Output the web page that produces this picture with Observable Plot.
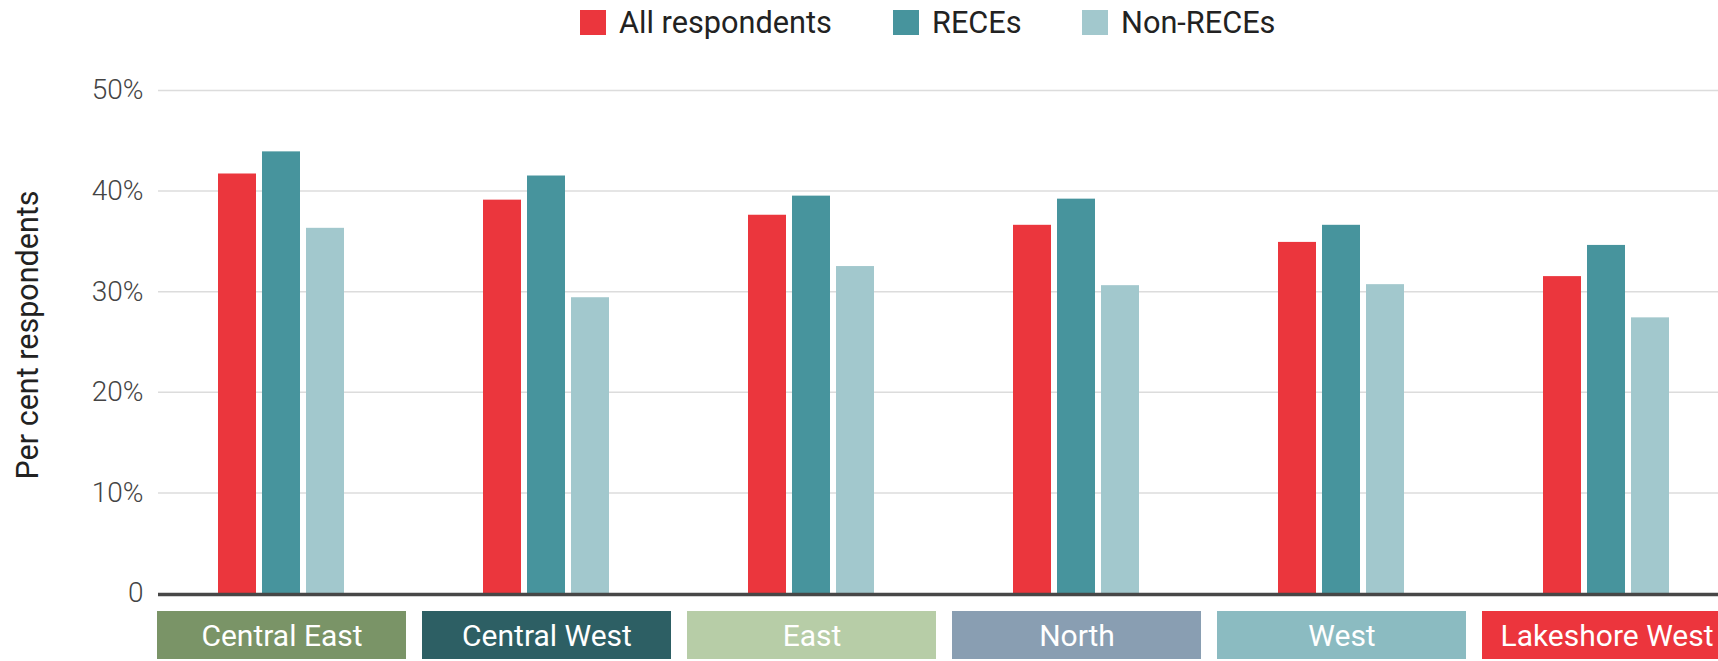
<!DOCTYPE html>
<html>
<head>
<meta charset="utf-8">
<script src="https://cdn.jsdelivr.net/npm/d3@7"></script>
<script src="https://cdn.jsdelivr.net/npm/@observablehq/plot@0.6"></script>
<style>
  html, body { margin: 0; padding: 0; background: #fff; overflow: hidden; width: 1718px; height: 661px; }
  body { font-family: Roboto, "Noto Sans", sans-serif; }
  #legend { height: 44px; position: relative; white-space: nowrap; }
  .item { position: absolute; top: 0; height: 44px; display: flex; align-items: center; font-size: 30.7px; color: #222; }
  .sw { width: 26px; height: 25px; margin-right: 13px; }
  #chart, #strip { width: 1740px; }
  svg { display: block; max-width: none !important; }
  svg.main g[aria-label="y-axis tick label"] text { font-weight: 300; fill: #444; }
</style>
</head>
<body>
<div id="legend"></div>
<div id="chart"></div>
<div id="strip"></div>
<script>
const categories = ["Central East", "Central West", "East", "North", "West", "Lakeshore West"];
const series = ["All respondents", "RECEs", "Non-RECEs"];
const allRespondents = [41.7, 39.1, 37.6, 36.6, 34.9, 31.5];
const reces = [43.9, 41.5, 39.5, 39.2, 36.6, 34.6];
const nonReces = [36.3, 29.4, 32.5, 30.6, 30.7, 27.4];
const yTicks = [0, 10, 20, 30, 40, 50];
const yTitle = "Per cent respondents";
const seriesColors = ["#EB363D", "#47949D", "#A2C8CD"];
const categoryColors = ["#7A9467", "#2D5F64", "#B7CDA7", "#899EB2", "#8BBBC1", "#EC353D"];

const seriesValues = [allRespondents, reces, nonReces];
const data = categories.flatMap((c, i) => series.map((s, j) => ({category: c, series: s, value: seriesValues[j][i]})));
const gridRows = categories.flatMap(c => yTicks.slice(1).map(t => ({category: c, tick: t})));
const baseRows = categories.map(c => ({category: c, tick: yTicks[0]}));
const isFirst = d => d.category === categories[0];
const notFirst = d => d.category !== categories[0];

// legend (layout offsets for the three entries)
const legendLefts = [580, 893, 1082];
const legend = document.getElementById("legend");
series.forEach((s, i) => {
  const item = document.createElement("div");
  item.className = "item";
  item.style.left = legendLefts[i] + "px";
  const sw = document.createElement("div");
  sw.className = "sw";
  sw.style.background = seriesColors[i];
  const label = document.createElement("span");
  label.textContent = s;
  item.appendChild(sw);
  item.appendChild(label);
  legend.appendChild(item);
});

const gridStyle = {fx: "category", y: "tick", stroke: "#dcdcdc", strokeWidth: 1.5};
const baseStyle = {fx: "category", y: "tick", stroke: "#474747", strokeWidth: 3.5, dy: 1};

const main = Plot.plot({
  width: 1740,
  height: 567,
  marginLeft: 148,
  marginRight: 0,
  marginTop: 46,
  marginBottom: 18,
  className: "main",
  style: {fontFamily: "Roboto, 'Noto Sans', sans-serif", fontSize: "28px", color: "#444", background: "transparent", overflow: "visible", maxWidth: "none"},
  fx: {domain: categories, paddingInner: 0, paddingOuter: 0, axis: null, label: null},
  x: {domain: series, paddingInner: 0.135, paddingOuter: 1.545, axis: null},
  y: {domain: [0, 50], ticks: yTicks, tickFormat: d => d === 0 ? "0" : d + "%", tickSize: 0, tickPadding: 6, label: null},
  color: {domain: series, range: seriesColors},
  marks: [
    Plot.ruleY(gridRows.filter(isFirst), {...gridStyle, insetLeft: 9}),
    Plot.ruleY(gridRows.filter(notFirst), gridStyle),
    Plot.barY(data, {fx: "category", x: "series", y: "value", fill: "series", inset: 0}),
    Plot.ruleY(baseRows.filter(isFirst), {...baseStyle, insetLeft: 9}),
    Plot.ruleY(baseRows.filter(notFirst), baseStyle),
    Plot.text([yTitle], {fx: [categories[0]], text: d => d, frameAnchor: "left", rotate: -90, textAnchor: "middle",
      lineAnchor: "middle", dx: -121, dy: -7, fontSize: 30.5, fill: "#222"})
  ]
});
document.getElementById("chart").appendChild(main);

const strip = Plot.plot({
  width: 1740,
  height: 48,
  marginLeft: 148,
  marginRight: 0,
  marginTop: 0,
  marginBottom: 0,
  style: {fontFamily: "Roboto, 'Noto Sans', sans-serif", fontSize: "30px", background: "transparent", overflow: "visible", maxWidth: "none"},
  x: {domain: categories, paddingInner: 0.0588, paddingOuter: 0.0294, axis: null},
  color: {domain: categories, range: categoryColors},
  marks: [
    Plot.cell(categories, {x: d => d, fill: d => d, inset: 0}),
    Plot.text(categories, {x: d => d, text: d => d, fill: "white", fontSize: 30, frameAnchor: "middle", dy: 1})
  ]
});
document.getElementById("strip").appendChild(strip);
</script>
</body>
</html>
